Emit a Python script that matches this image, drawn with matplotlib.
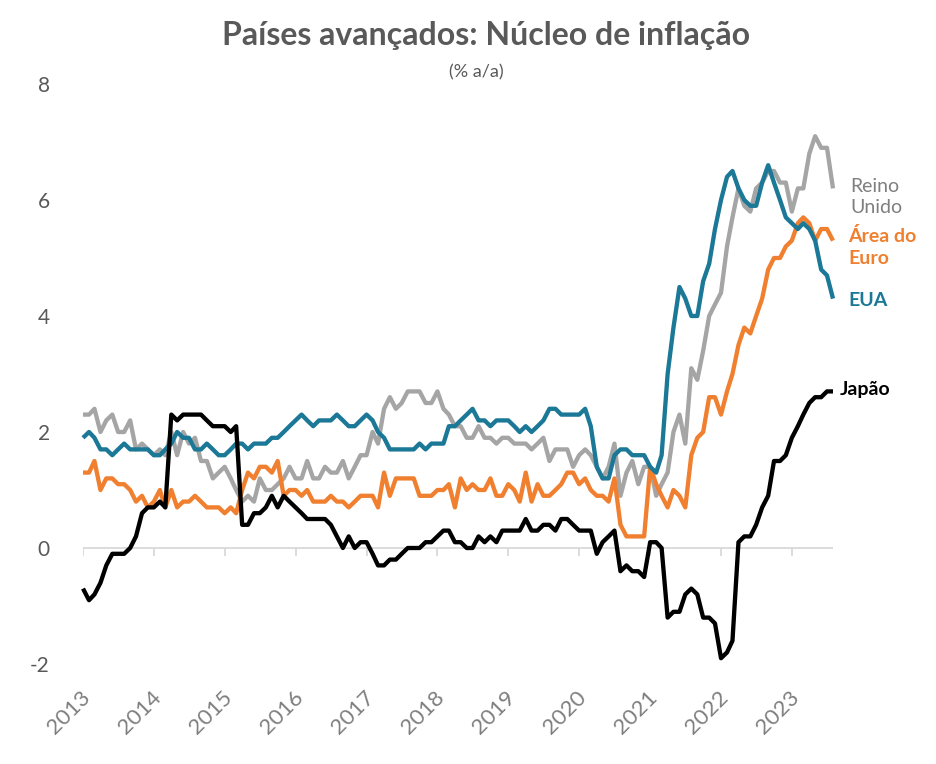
import numpy as np
import pandas as pd
import matplotlib
matplotlib.use("Agg")
import matplotlib.pyplot as plt
from matplotlib.transforms import offset_copy

plt.rcParams["font.family"] = ["Lato", "DejaVu Sans"]

# ---------------- data: monthly core inflation, % y/y, Jan 2013 .. Aug 2023 ----------------
start = "2013-01-01"

eua = [1.9, 2.0, 1.9, 1.7, 1.7, 1.6, 1.7, 1.8, 1.7, 1.7, 1.7, 1.7,
       1.6, 1.6, 1.7, 1.8, 2.0, 1.9, 1.9, 1.7, 1.7, 1.8, 1.7, 1.6,
       1.6, 1.7, 1.8, 1.8, 1.7, 1.8, 1.8, 1.8, 1.9, 1.9, 2.0, 2.1,
       2.2, 2.3, 2.2, 2.1, 2.2, 2.2, 2.2, 2.3, 2.2, 2.1, 2.1, 2.2,
       2.3, 2.2, 2.0, 1.9, 1.7, 1.7, 1.7, 1.7, 1.7, 1.8, 1.7, 1.8,
       1.8, 1.8, 2.1, 2.1, 2.2, 2.3, 2.4, 2.2, 2.2, 2.1, 2.2, 2.2,
       2.2, 2.1, 2.0, 2.1, 2.0, 2.1, 2.2, 2.4, 2.4, 2.3, 2.3, 2.3,
       2.3, 2.4, 2.1, 1.4, 1.2, 1.2, 1.6, 1.7, 1.7, 1.6, 1.6, 1.6,
       1.4, 1.3, 1.6, 3.0, 3.8, 4.5, 4.3, 4.0, 4.0, 4.6, 4.9, 5.5,
       6.0, 6.4, 6.5, 6.2, 6.0, 5.9, 5.9, 6.3, 6.6, 6.3, 6.0, 5.7,
       5.6, 5.5, 5.6, 5.5, 5.3, 4.8, 4.7, 4.3]

reino_unido = [2.3, 2.3, 2.4, 2.0, 2.2, 2.3, 2.0, 2.0, 2.2, 1.7, 1.8, 1.7,
               1.6, 1.7, 1.6, 2.0, 1.6, 2.0, 1.8, 1.9, 1.5, 1.5, 1.2, 1.3,
               1.4, 1.2, 1.0, 0.8, 0.9, 0.8, 1.2, 1.0, 1.0, 1.1, 1.2, 1.4,
               1.2, 1.2, 1.5, 1.2, 1.2, 1.4, 1.3, 1.3, 1.5, 1.2, 1.4, 1.6,
               1.6, 2.0, 1.8, 2.4, 2.6, 2.4, 2.5, 2.7, 2.7, 2.7, 2.5, 2.5,
               2.7, 2.4, 2.3, 2.1, 2.1, 1.9, 1.9, 2.1, 1.9, 1.9, 1.8, 1.9,
               1.9, 1.8, 1.8, 1.8, 1.7, 1.8, 1.9, 1.5, 1.7, 1.7, 1.7, 1.4,
               1.6, 1.7, 1.6, 1.4, 1.2, 1.4, 1.8, 0.9, 1.3, 1.5, 1.1, 1.4,
               1.4, 0.9, 1.1, 1.3, 2.0, 2.3, 1.8, 3.1, 2.9, 3.4, 4.0, 4.2,
               4.4, 5.2, 5.7, 6.2, 5.9, 5.8, 6.2, 6.3, 6.5, 6.5, 6.3, 6.3,
               5.8, 6.2, 6.2, 6.8, 7.1, 6.9, 6.9, 6.2]

area_euro = [1.3, 1.3, 1.5, 1.0, 1.2, 1.2, 1.1, 1.1, 1.0, 0.8, 0.9, 0.7,
             0.8, 1.0, 0.7, 1.0, 0.7, 0.8, 0.8, 0.9, 0.8, 0.7, 0.7, 0.7,
             0.6, 0.7, 0.6, 1.0, 1.3, 1.2, 1.4, 1.4, 1.3, 1.5, 0.9, 1.0,
             1.0, 0.9, 1.0, 0.8, 0.8, 0.8, 0.9, 0.8, 0.8, 0.7, 0.8, 0.9,
             0.9, 0.9, 0.7, 1.3, 0.9, 1.2, 1.2, 1.2, 1.2, 0.9, 0.9, 0.9,
             1.0, 1.0, 1.1, 0.7, 1.2, 1.0, 1.1, 1.0, 1.0, 1.2, 0.9, 0.9,
             1.1, 1.0, 0.8, 1.3, 0.8, 1.1, 0.9, 0.9, 1.0, 1.1, 1.3, 1.3,
             1.1, 1.2, 1.0, 0.9, 0.9, 0.8, 1.2, 0.4, 0.2, 0.2, 0.2, 0.2,
             1.4, 1.1, 0.9, 0.7, 1.0, 0.9, 0.7, 1.6, 1.9, 2.0, 2.6, 2.6,
             2.3, 2.7, 3.0, 3.5, 3.8, 3.7, 4.0, 4.3, 4.8, 5.0, 5.0, 5.2,
             5.3, 5.6, 5.7, 5.6, 5.3, 5.5, 5.5, 5.3]

japao = [-0.7, -0.9, -0.8, -0.6, -0.3, -0.1, -0.1, -0.1, 0.0, 0.2, 0.6, 0.7,
         0.7, 0.8, 0.7, 2.3, 2.2, 2.3, 2.3, 2.3, 2.3, 2.2, 2.1, 2.1,
         2.1, 2.0, 2.1, 0.4, 0.4, 0.6, 0.6, 0.7, 0.9, 0.7, 0.9, 0.8,
         0.7, 0.6, 0.5, 0.5, 0.5, 0.5, 0.4, 0.2, 0.0, 0.2, 0.0, 0.1,
         0.1, -0.1, -0.3, -0.3, -0.2, -0.2, -0.1, 0.0, 0.0, 0.0, 0.1, 0.1,
         0.2, 0.3, 0.3, 0.1, 0.1, 0.0, 0.0, 0.2, 0.1, 0.2, 0.1, 0.3,
         0.3, 0.3, 0.3, 0.5, 0.3, 0.3, 0.4, 0.4, 0.3, 0.5, 0.5, 0.4,
         0.3, 0.3, 0.3, -0.1, 0.1, 0.2, 0.3, -0.4, -0.3, -0.4, -0.4, -0.5,
         0.1, 0.1, 0.0, -1.2, -1.1, -1.1, -0.8, -0.7, -0.8, -1.2, -1.2, -1.3,
         -1.9, -1.8, -1.6, 0.1, 0.2, 0.2, 0.4, 0.7, 0.9, 1.5, 1.5, 1.6,
         1.9, 2.1, 2.3, 2.5, 2.6, 2.6, 2.7, 2.7]

anos = list(range(2013, 2024))
yticks = [-2, 0, 2, 4, 6, 8]

# ---------------- figure ----------------
W, H = 936, 764
fig = plt.figure(figsize=(W / 100, H / 100), dpi=100)
ax = fig.add_axes([83 / W, (H - 664) / H, (833 - 83) / W, (664 - 84) / H])

datas = pd.date_range(start, periods=len(eua), freq="MS")
GRAY_TXT = "#595959"

series = [(reino_unido, "#a5a5a5"), (area_euro, "#f0802f"),
          (eua, "#1b7896"), (japao, "#000000")]
for vals, cor in series:
    ax.plot(datas, vals, color=cor, lw=3.1, solid_joinstyle="round",
            solid_capstyle="butt", clip_on=False, zorder=3)

ax.set_xlim(datas[0], datas[-1])
ax.set_ylim(-2, 8)

# zero line with year ticks
ax.axhline(0, color="#d9d9d9", lw=1.3, zorder=1)
ticks_x = pd.to_datetime([f"{a}-01-01" for a in anos])
ax.vlines(ticks_x, -0.13, 0, color="#d9d9d9", lw=1.3, zorder=1)

for s in ax.spines.values():
    s.set_visible(False)
ax.set_xticks([])
ax.set_yticks(yticks)
ax.set_yticklabels([str(v) for v in yticks])
ax.tick_params(axis="y", length=0, pad=24, labelsize=15, labelcolor=GRAY_TXT)

# rotated year labels under the plot
lab_tr = offset_copy(ax.transData, fig=fig, x=-2, y=-17, units="points")
for a, t in zip(anos, ticks_x):
    ax.text(t, -2, str(a), transform=lab_tr, rotation=45, rotation_mode="anchor",
            ha="right", va="top", fontsize=16, color="#7f7f7f")

# titles
fig.text(486 / W, 1 - 36 / H, "Países avançados: Núcleo de inflação",
         ha="center", va="center", fontsize=23, fontweight="bold", color=GRAY_TXT)
fig.text(476 / W, 1 - 72 / H, "(% a/a)", ha="center", va="center",
         fontsize=13, color=GRAY_TXT)

# series labels on the right
lbl = dict(ha="left", va="center", fontsize=14, linespacing=1.3)
fig.text(850 / W, 1 - 197 / H, "Reino\nUnido", color="#7f7f7f", **lbl)
fig.text(848 / W, 1 - 247 / H, "Área do\nEuro", color="#f0802f", fontweight="bold", **lbl)
fig.text(848 / W, 1 - 300 / H, "EUA", color="#1b7896", fontweight="bold", **lbl)
fig.text(840 / W, 1 - 390 / H, "Japão", color="#000000", fontweight="bold", **lbl)

fig.savefig("out.png", dpi=100)
